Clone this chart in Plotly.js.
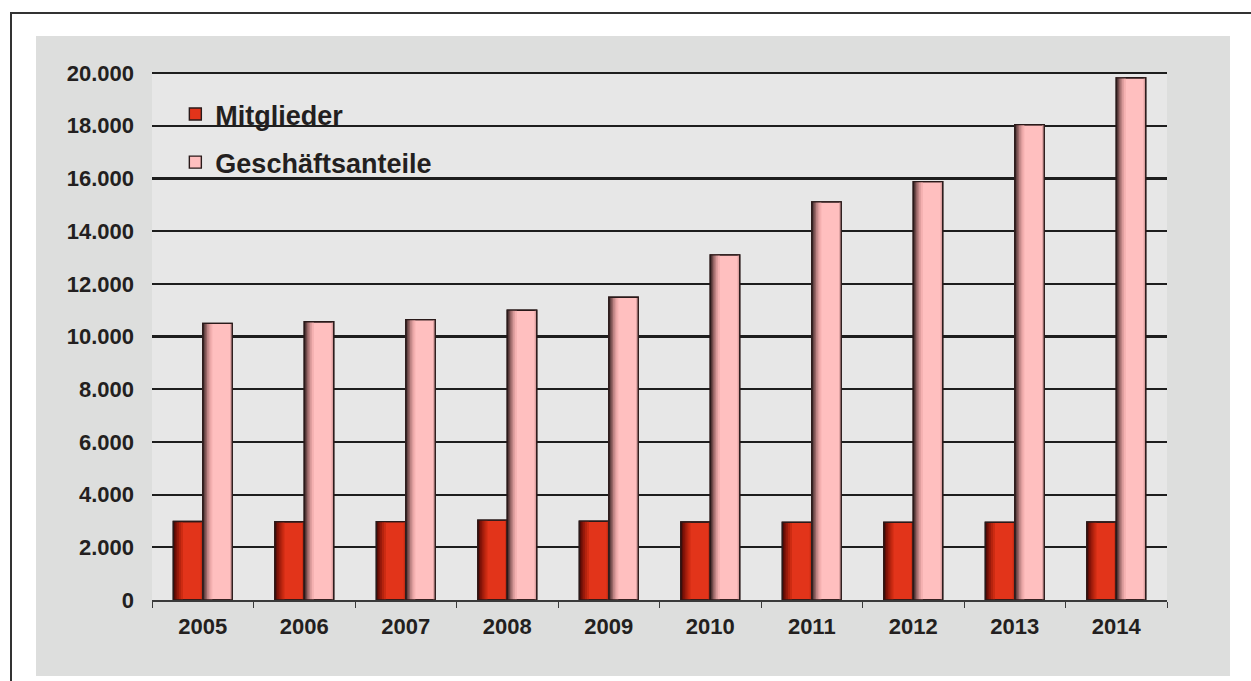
<!DOCTYPE html>
<html>
<head>
<meta charset="utf-8">
<script src="https://cdn.plot.ly/plotly-3.0.1.min.js"></script>
<style>
  html, body { margin: 0; padding: 0; background: #ffffff; width: 1251px; height: 681px; overflow: hidden; }
  #frame { position: absolute; left: 10px; top: 12px; width: 1260px; height: 700px; border: 2px solid #333333; box-sizing: border-box; }
  #chart { position: absolute; left: 36px; top: 36px; width: 1194px; height: 640px; }
</style>
</head>
<body>
<div id="frame"></div>
<div id="chart"></div>
<script>
// ---- data ----
const years = ['2005','2006','2007','2008','2009','2010','2011','2012','2013','2014'];
const mitglieder = [2980, 2970, 2975, 3030, 2990, 2960, 2950, 2950, 2950, 2960];
const geschaeftsanteile = [10500, 10560, 10640, 11000, 11490, 13100, 15110, 15880, 18040, 19820];
const seriesNames = ['Mitglieder', 'Geschäftsanteile'];
const yTicks = [0, 2000, 4000, 6000, 8000, 10000, 12000, 14000, 16000, 18000, 20000];

// ---- styling ----
const W = 0.29;
const fontFam = '"Liberation Sans", Arial, Helvetica, sans-serif';
const txt = '#231f20';

function seriesTraces(name, vals, offset, base, shades, rightShade, group) {
  const t = [];
  t.push({
    type: 'bar', name: name, x: years, y: vals, offset: offset, width: W,
    legendgroup: group,
    marker: { color: base, line: { color: '#2a1a1a', width: 1.4 } },
    hoverinfo: 'x+y+name'
  });
  // gradient strips on the left side (cylinder-like shading)
  shades.forEach(function (s) {
    t.push({
      type: 'bar', x: years, y: vals, offset: offset, width: s[0],
      showlegend: false, hoverinfo: 'skip', legendgroup: group,
      marker: { color: s[1], line: { width: 0 } }
    });
  });
  // slight darkening on the right edge
  t.push({
    type: 'bar', x: years, y: vals, offset: offset + W - rightShade[0], width: rightShade[0],
    showlegend: false, hoverinfo: 'skip', legendgroup: group,
    marker: { color: rightShade[1], line: { width: 0 } }
  });
  // outline on top
  t.push({
    type: 'bar', x: years, y: vals, offset: offset, width: W,
    showlegend: false, hoverinfo: 'skip', legendgroup: group,
    marker: { color: 'rgba(0,0,0,0)', line: { color: '#2a1a1a', width: 1.3 } }
  });
  return t;
}

const redShades = [
  [0.095, '#cc2b12'], [0.075, '#b4230e'], [0.056, '#9a1a0b'],
  [0.038, '#7e1308'], [0.022, '#600d06'], [0.01, '#400804']
];
const pinkShades = [
  [0.095, '#f4b0b0'], [0.075, '#dc9c9c'], [0.058, '#bd8383'],
  [0.042, '#976666'], [0.028, '#6f4a4a'], [0.015, '#4a3030'], [0.006, '#2a1c1c']
];

const data = []
  .concat(seriesTraces(seriesNames[0], mitglieder, -W, '#e2341a', redShades, [0.02, '#c62c14'], 'm'))
  .concat(seriesTraces(seriesNames[1], geschaeftsanteile, 0, '#ffbfbf', pinkShades, [0.02, '#dca0a0'], 'g'));

const layout = {
  width: 1194, height: 640,
  margin: { l: 116, r: 63, t: 36, b: 76 },
  paper_bgcolor: '#dddedd',
  plot_bgcolor: '#e7e7e7',
  separators: ',.',
  barmode: 'overlay',
  showlegend: true,
  legend: {
    x: 0.023, y: 0.966, xanchor: 'left', yanchor: 'top',
    bgcolor: 'rgba(0,0,0,0)',
    traceorder: 'grouped', tracegroupgap: 10,
    font: { family: fontFam, size: 27, color: txt, weight: 'bold' }
  },
  xaxis: {
    type: 'category',
    showgrid: false,
    showline: true, linecolor: '#3a3a3a', linewidth: 1.5,
    ticks: 'outside', tickson: 'boundaries', ticklen: 6, tickcolor: '#3a3a3a', tickwidth: 1,
    ticklabelstandoff: 6,
    tickfont: { family: fontFam, size: 22, color: txt, weight: 'bold' },
    fixedrange: true
  },
  yaxis: {
    range: [0, 20040],
    tickvals: yTicks,
    tickformat: ',d',
    showgrid: true, gridcolor: '#1e1e1e', gridwidth: 2.2,
    zeroline: false, showline: false,
    ticks: '', ticklabelstandoff: 17,
    tickfont: { family: fontFam, size: 22, color: txt, weight: 'bold' },
    fixedrange: true
  }
};

Plotly.newPlot('chart', data, layout, { displayModeBar: false, staticPlot: true });
</script>
</body>
</html>
